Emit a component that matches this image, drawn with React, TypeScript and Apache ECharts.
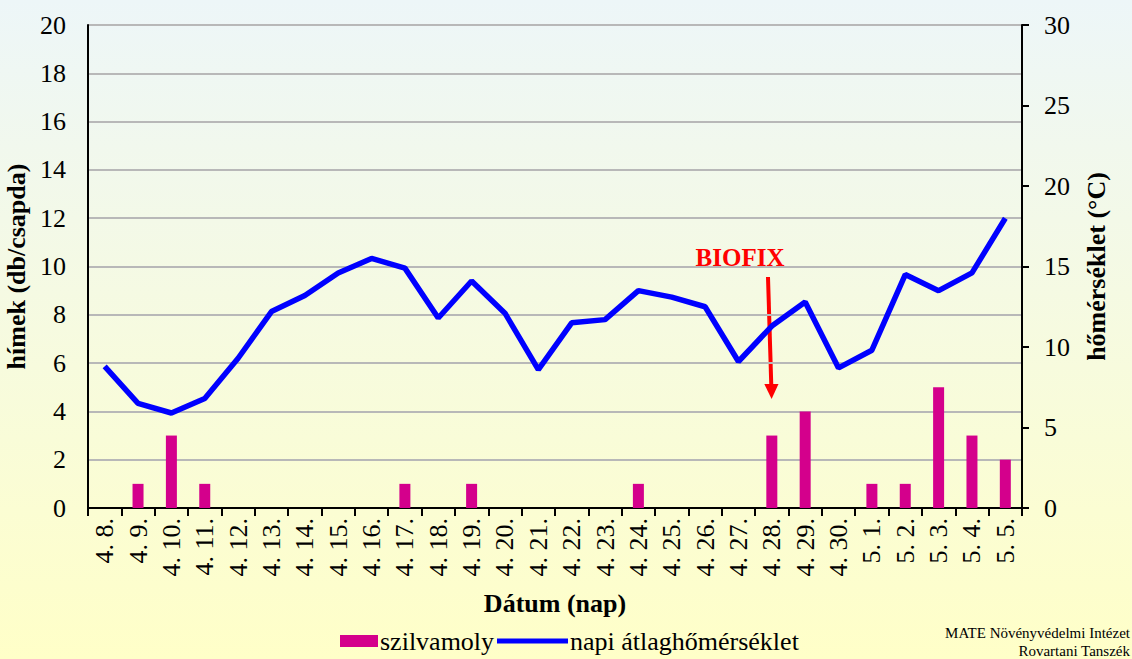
import React, { useEffect, useRef } from 'react';
import * as echarts from 'echarts';

const categories = [
  '4. 8.', '4. 9.', '4. 10.', '4. 11.', '4. 12.', '4. 13.', '4. 14.', '4. 15.', '4. 16.', '4. 17.',
  '4. 18.', '4. 19.', '4. 20.', '4. 21.', '4. 22.', '4. 23.', '4. 24.', '4. 25.', '4. 26.', '4. 27.',
  '4. 28.', '4. 29.', '4. 30.', '5. 1.', '5. 2.', '5. 3.', '5. 4.', '5. 5.',
];
const szilvamoly = [0, 1, 3, 1, 0, 0, 0, 0, 0, 1, 0, 1, 0, 0, 0, 0, 1, 0, 0, 0, 3, 4, 0, 1, 1, 5, 3, 2];
const homerseklet = [
  8.8, 6.5, 5.9, 6.8, 9.3, 12.2, 13.2, 14.6, 15.5, 14.9, 11.8, 14.1, 12.1, 8.6, 11.5, 11.7, 13.5, 13.1,
  12.5, 9.1, 11.3, 12.8, 8.7, 9.8, 14.5, 13.5, 14.6, 18.0,
];
const leftTicks = { min: 0, max: 20, interval: 2 };
const rightTicks = { min: 0, max: 30, interval: 5 };

const FONT = 'Liberation Serif';

export default function App() {
  const ref = useRef<HTMLDivElement>(null);
  useEffect(() => {
    if (!ref.current) return;
    const chart = echarts.init(ref.current, undefined, { renderer: 'svg' });
    const txt = (size: number, bold = false) => ({
      fontFamily: FONT,
      fontSize: size,
      fontStyle: '',
      fontWeight: bold ? 'bold' : '',
      color: '#000',
    });
    chart.setOption({
      animation: false,
      backgroundColor: new echarts.graphic.LinearGradient(0, 0, 0, 1, [
        { offset: 0, color: '#edf6f8' },
        { offset: 1, color: '#ffffc8' },
      ]),
      textStyle: { fontFamily: FONT, fontStyle: '', fontWeight: '', color: '#000' },
      grid: { left: 88, right: 110, top: 25, bottom: 151, containLabel: false, outerBoundsMode: 'none' },
      legend: [
        {
          data: ['szilvamoly'],
          left: 340,
          top: 628,
          padding: 0,
          itemWidth: 38,
          itemHeight: 12,
          icon: 'rect',
          textStyle: { ...txt(26), padding: [0, 0, 0, -3] },
        },
        {
          data: ['napi átlaghőmérséklet'],
          left: 497,
          top: 628,
          padding: 0,
          itemWidth: 71,
          itemHeight: 5,
          icon: 'rect',
          textStyle: { ...txt(26), padding: [0, 0, 0, -3] },
        },
      ],
      xAxis: {
        type: 'category',
        data: categories,
        boundaryGap: true,
        name: 'Dátum (nap)',
        nameLocation: 'middle',
        nameGap: 82,
        nameTextStyle: txt(26, true),
        axisLine: { show: true, lineStyle: { color: '#000', width: 2 } },
        axisTick: { show: true, length: 8, lineStyle: { color: '#000', width: 2 } },
        axisLabel: { ...txt(26), rotate: 90, margin: 10, interval: 0 },
        splitLine: { show: false },
      },
      yAxis: [
        {
          type: 'value',
          position: 'left',
          ...leftTicks,
          name: 'hímek (db/csapda)',
          nameLocation: 'middle',
          nameRotate: 90,
          nameGap: 56,
          nameTextStyle: txt(26, true),
          axisLine: { show: true, lineStyle: { color: '#000', width: 2 } },
          axisTick: { show: false },
          axisLabel: { ...txt(26), margin: 22 },
          splitLine: { show: true, lineStyle: { color: '#b8b8b8', width: 2 } },
        },
        {
          type: 'value',
          position: 'right',
          ...rightTicks,
          name: 'hőmérséklet (°C)',
          nameLocation: 'middle',
          nameRotate: 90,
          nameGap: 61,
          nameTextStyle: txt(26, true),
          axisLine: { show: true, lineStyle: { color: '#000', width: 2 } },
          axisTick: { show: true, length: 7, lineStyle: { color: '#000', width: 2 } },
          axisLabel: { ...txt(26), margin: 22 },
          splitLine: { show: false },
        },
      ],
      series: [
        {
          name: 'szilvamoly',
          type: 'bar',
          yAxisIndex: 0,
          data: szilvamoly,
          barWidth: 11,
          itemStyle: { color: '#d4008c' },
        },
        {
          name: 'napi átlaghőmérséklet',
          type: 'line',
          yAxisIndex: 1,
          data: homerseklet,
          symbol: 'none',
          lineStyle: { color: '#0000ff', width: 5.5 },
          itemStyle: { color: '#0000ff' },
        },
      ],
      graphic: [
        {
          type: 'text',
          x: 740,
          y: 257,
          style: {
            text: 'BIOFIX',
            fill: '#ff0000',
            font: `bold 25px ${FONT}`,
            textAlign: 'center',
            textVerticalAlign: 'middle',
          },
        },
        {
          type: 'line',
          shape: { x1: 768, y1: 277, x2: 771.3, y2: 386 },
          style: { stroke: '#ff0000', lineWidth: 4 },
        },
        {
          type: 'polygon',
          shape: { points: [[764.3, 384], [778.5, 384], [771.6, 399]] },
          style: { fill: '#ff0000' },
        },
        {
          type: 'text',
          right: 2,
          top: 624,
          style: {
            text: 'MATE Növényvédelmi Intézet\nRovartani Tanszék',
            fill: '#000',
            font: `15px ${FONT}`,
            textAlign: 'right',
            lineHeight: 18,
          },
        },
      ],
    });
    return () => chart.dispose();
  }, []);
  return <div ref={ref} style={{ position: 'absolute', left: 0, top: 0, width: 1132, height: 659 }} />;
}
